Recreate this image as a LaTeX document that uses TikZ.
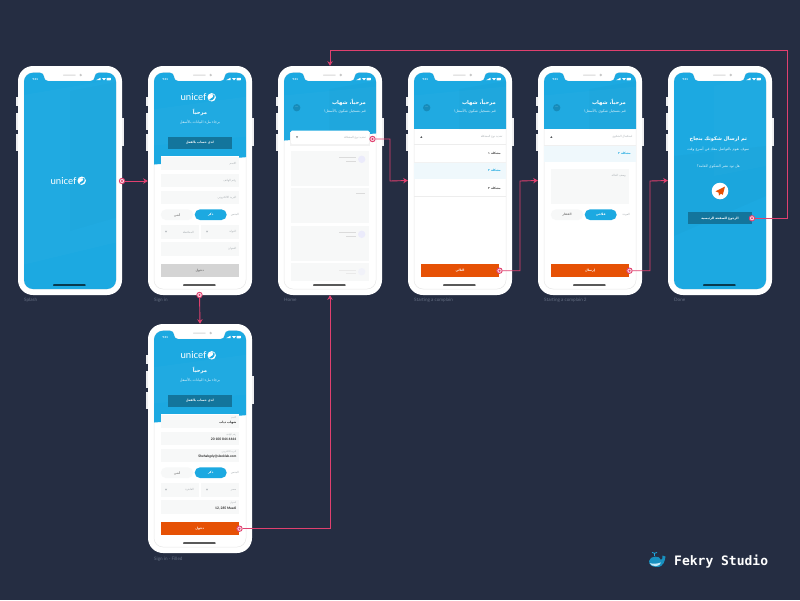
\documentclass[tikz,border=0pt]{standalone}
\usepackage{fontspec}
\setmainfont{Lato}
\newfontfamily\arabicfont[Script=Arabic]{DejaVu Sans}
\newfontfamily\studiofont{DejaVu Sans Mono}
\TeXXeTstate=1
\usetikzlibrary{arrows.meta}
\definecolor{boardbg}{HTML}{252D42}
\definecolor{screenblue}{HTML}{1CA9E1}
\definecolor{darkbtn}{HTML}{13759C}
\definecolor{orangebtn}{HTML}{E65105}
\definecolor{linkpink}{HTML}{E0406F}
\definecolor{fieldgray}{HTML}{F7F8F8}
\definecolor{palerow}{HTML}{EFF8FC}
\definecolor{captiongray}{HTML}{646D81}
\definecolor{hintgray}{HTML}{A9AFB3}
\newcommand{\ar}[1]{\beginR #1\endR}
\tikzset{
 screenshape/.style={insert path={(6,110) [rounded corners=9pt] -- (6,6.7) [rounded corners=4pt] -- (26,6.7) -- (26,15) -- (76.7,15) -- (76.7,6.7) [rounded corners=9pt] -- (98,6.7) -- (98,223) -- (6,223) -- cycle}},
 caption/.style={anchor=west, inner sep=0, text=captiongray, font=\fontsize{4.6}{5}\selectfont},
 arbig/.style={inner sep=0, text=white, font=\arabicfont\bfseries\fontsize{5.2}{6}\selectfont},
 arsub/.style={inner sep=0, text=white!85!screenblue, font=\arabicfont\fontsize{3.6}{4}\selectfont},
 arbtn/.style={inner sep=0, text=white, font=\arabicfont\bfseries\fontsize{3.1}{4}\selectfont},
 arhint/.style={inner sep=0, text=hintgray, font=\arabicfont\fontsize{2.8}{3}\selectfont},
 ardark/.style={inner sep=0, text=black!70, font=\arabicfont\bfseries\fontsize{3}{4}\selectfont},
 valtext/.style={inner sep=0, anchor=east, text=black!85, font=\bfseries\fontsize{3.3}{4}\selectfont},
 flatbtn/.style={fill=#1, rectangle, inner sep=0},
 linkdot/.style={circle, inner sep=0, minimum size=5.4pt, fill=white!80!linkpink, draw=linkpink, line width=.9pt, path picture={\fill[linkpink] (path picture bounding box.center) circle (1.1pt);}},
 link/.style={draw=linkpink, line width=.9pt, -{Stealth[length=4.6pt, width=5.4pt]}},
 pics/phone/.style={code={
  \foreach \y/\h in {30.7/9.3,46.7/17.3,68/17} {\fill[white!92!boardbg] (-1.6,\y) rectangle ++(2.5,\h);}
  \fill[white!92!boardbg] (103,52) rectangle ++(2.6,28);
  \node[fill=white, rounded corners=15pt, minimum width=104pt, minimum height=229pt, inner sep=0] (frame) at (52,114.5) {};
  \filldraw[fill=white, draw=black!9, line width=.5pt, screenshape];
  \fill[black!16, rounded corners=.6pt] (45,8.5) rectangle (57.7,9.7);
  \fill[black!22] (62.7,9) circle (1.3);
 }},
 pics/phonebar/.style={code={
  \node[inner sep=0, text=#1, font=\bfseries\fontsize{2.8}{3}\selectfont] (clock) at (17.3,13.3) {9:41};
  \fill[#1] (78,14.2) -- (82.5,14.2) -- (82.5,11.8) -- cycle;
  \fill[#1] (84,12) -- (88,12) -- (86,14.4) -- cycle;
  \fill[#1, rounded corners=.4pt] (88.6,11.8) rectangle (92.8,14.3);
  \fill[black, rounded corners=.6pt] (35,218.4) rectangle (67.7,219.7);
 }},
 pics/logo/.style={code={
  \node[inner sep=0, anchor=east, text=white, font=\fontsize{9.6}{11}\selectfont] (word) at (58.7,0) {unicef};
  \fill[white] (63.7,0) circle (4.2);
  \fill[screenblue] (61.7,-2.2) .. controls (65.7,-3.5) and (66.7,-1) .. (64.7,0) .. controls (63.7,1.5) and (61.7,1) .. (61.2,2.5) -- (62.7,3.2) .. controls (65.7,2.5) and (67.7,0) .. (66.2,-2.8) -- cycle;
 }},
 pics/hello/.style={code={
  \fill[white, opacity=.02] (0,30) -- (104,20) -- (104,110) -- (0,110) -- cycle;
  \fill[black, opacity=.015] (51.3,23) -- (104,14) -- (104,90) -- (51.3,90) -- cycle;
  \node[arbig, anchor=east] (hi) at (88,36.3) {\ar{مرحباً، شهاب}};
  \node[arsub, anchor=east] (ask) at (88,45.7) {\ar{قم بتسجيل شكوى بالأسفل!}};
  \node[circle, fill=darkbtn!55!screenblue, minimum size=7.4pt, inner sep=0, text=white, font=\fontsize{3}{3}\selectfont] (menu) at (18.7,41.7) {...};
 }},
 pics/gender/.style n args={2}{code={
  \node[flatbtn=screenblue, rounded corners=5.3pt, minimum width=32pt, minimum height=10.7pt, arbtn] (pilla) at (62.7,148.7) {\ar{#1}};
  \node[flatbtn=fieldgray, rounded corners=5.3pt, minimum width=32.5pt, minimum height=10.7pt, ardark, text=black!50] (pillb) at (29,148.7) {\ar{#2}};
 }}
}
\begin{document}
\begin{tikzpicture}[x=1pt, y=-1pt]
\useasboundingbox (0,0) rectangle (800,600);
\fill[boardbg] (0,0) rectangle (800,600);

% splash
\begin{scope}[shift={(18,66)}]
\pic (splash) at (0,0) {phone};
\begin{scope}
\clip[screenshape];
\fill[screenblue] (0,0) rectangle (104,229);
\fill[white, opacity=.02] (0,30) -- (104,12) -- (104,175) -- (0,200) -- cycle;
\fill[black, opacity=.012] (52,25) -- (104,15) -- (104,150) -- (52,165) -- cycle;
\end{scope}
\pic (splashlogo) at (0,114.7) {logo};
\pic (splashbar) at (0,0) {phonebar=white};
\node[caption] (splashcap) at (6,234) {Splash};
\node[linkdot] (splashdot) at (104,115) {};
\end{scope}

% sign in, empty form
\begin{scope}[shift={(148,66)}]
\pic (signin) at (0,0) {phone};
\begin{scope}
\clip[screenshape];
\fill[screenblue] (0,0) -- (104,0) -- (104,90.7) -- (0,99) -- cycle;
\fill[white, opacity=.02] (0,44) -- (104,30) -- (104,70) -- (0,80) -- cycle;
\end{scope}
\fill[white] (12.7,90) rectangle (90.7,215);
\foreach \y in {90.7,107.7,124.7,176.3} {\fill[fieldgray] (12.7,\y) rectangle ++(78,13.4);}
\fill[fieldgray] (12.7,159.3) rectangle ++(38,13.4);
\fill[fieldgray] (52.7,159.3) rectangle ++(38,13.4);
\pic (signinlogo) at (0,31.3) {logo};
\pic (signinbar) at (0,0) {phonebar=white};
\node[arbig] (signinhi) at (52,46.7) {\ar{مرحباً}};
\node[arsub] (signinask) at (52,56.3) {\ar{برجاء ملء البيانات بالأسفل}};
\node[flatbtn=darkbtn, minimum width=63.7pt, minimum height=12pt, arbtn] (signinhave) at (51.8,77) {\ar{لدي حساب بالفعل}};
\node[arhint, anchor=east] (signinname) at (88.5,97.4) {\ar{الاسم}};
\node[arhint, anchor=east] (signinphone) at (88.5,114.4) {\ar{رقم الهاتف}};
\node[arhint, anchor=east] (signinmail) at (88.5,131.4) {\ar{البريد الالكتروني}};
\node[arhint, anchor=east] (signinsex) at (91,148.7) {\ar{الجنس}};
\pic (signingender) at (0,0) {gender={ذكر}{أنثى}};
\node[arhint, anchor=east] (signincountry) at (88.5,166) {\ar{الدولة}};
\node[arhint, anchor=east] (signincity) at (46,166) {\ar{المحافظة}};
\node[arhint, anchor=east] (signinaddr) at (88.5,183) {\ar{العنوان}};
\fill[hintgray] (17,164.8) -- (19,164.8) -- (18,166.6) -- cycle;
\fill[hintgray] (58,164.8) -- (60,164.8) -- (59,166.6) -- cycle;
\node[flatbtn=black!17, minimum width=78pt, minimum height=13.3pt, ardark, text=black!55] (signinbtn) at (51.7,204.3) {\ar{دخول}};
\node[caption] (signincap) at (6,234) {Sign in};
\node[linkdot] (signindot) at (51.5,229) {};
\end{scope}

% sign in, filled form
\begin{scope}[shift={(148,324)}]
\pic (filled) at (0,0) {phone};
\begin{scope}
\clip[screenshape];
\fill[screenblue] (0,0) -- (104,0) -- (104,90.7) -- (0,99) -- cycle;
\fill[white, opacity=.02] (0,44) -- (104,30) -- (104,70) -- (0,80) -- cycle;
\end{scope}
\fill[white] (12.7,90) rectangle (90.7,215);
\foreach \y in {90.7,107.7,124.7,176.3} {\fill[fieldgray] (12.7,\y) rectangle ++(78,13.4);}
\fill[fieldgray] (12.7,159.3) rectangle ++(38,13.4);
\fill[fieldgray] (52.7,159.3) rectangle ++(38,13.4);
\pic (filledlogo) at (0,31.3) {logo};
\pic (filledbar) at (0,0) {phonebar=white};
\node[arbig] (filledhi) at (52,46.7) {\ar{مرحباً}};
\node[arsub] (filledask) at (52,56.3) {\ar{برجاء ملء البيانات بالأسفل}};
\node[flatbtn=darkbtn, minimum width=63.7pt, minimum height=12pt, arbtn] (filledhave) at (51.8,77) {\ar{لدي حساب بالفعل}};
\node[arhint, anchor=east, font=\arabicfont\fontsize{2.2}{3}\selectfont] (filledname) at (88.5,93.5) {\ar{الاسم}};
\node[ardark, anchor=east, text=black!85] (filledshehab) at (88.5,98.5) {\ar{شهاب دياب}};
\node[arhint, anchor=east, font=\arabicfont\fontsize{2.2}{3}\selectfont] (filledphone) at (88.5,110.5) {\ar{رقم الهاتف}};
\node[valtext] (filledphoneval) at (88.5,115.6) {20 100 844 4444};
\node[arhint, anchor=east, font=\arabicfont\fontsize{2.2}{3}\selectfont] (filledmail) at (88.5,127.5) {\ar{البريد الالكتروني}};
\node[valtext] (filledmailval) at (88.5,132.6) {Shehabgdy@sleeklab.com};
\node[arhint, anchor=east] (filledsex) at (91,148.7) {\ar{الجنس}};
\pic (filledgender) at (0,0) {gender={ذكر}{أنثى}};
\node[arhint, anchor=east] (filledcountry) at (88.5,166) {\ar{مصر}};
\node[arhint, anchor=east] (filledcity) at (46,166) {\ar{القاهرة}};
\node[arhint, anchor=east, font=\arabicfont\fontsize{2.2}{3}\selectfont] (filledaddr) at (88.5,179) {\ar{العنوان}};
\node[valtext] (filledaddrval) at (88.5,184.3) {12, 285 Maadi};
\fill[hintgray] (17,164.8) -- (19,164.8) -- (18,166.6) -- cycle;
\fill[hintgray] (58,164.8) -- (60,164.8) -- (59,166.6) -- cycle;
\node[flatbtn=orangebtn, minimum width=78pt, minimum height=13.6pt, arbtn] (filledbtn) at (51.7,204.5) {\ar{دخول}};
\node[caption] (filledcap) at (6,235) {Sign in - Filled};
\node[linkdot] (filleddot) at (91.5,204.7) {};
\end{scope}

% home
\begin{scope}[shift={(278,66)}]
\pic (home) at (0,0) {phone};
\begin{scope}
\clip[screenshape];
\fill[screenblue] (0,0) -- (104,0) -- (104,67) -- (0,75) -- cycle;
\clip (0,0) -- (104,0) -- (104,67) -- (0,75) -- cycle;
\pic (homehello) at (0,0) {hello};
\end{scope}
\fill[black!5] (12,65.5) rectangle (92,79.5);
\fill[white, rounded corners=1pt] (13,64.7) rectangle (91,78);
\node[arhint, anchor=east] (homepick) at (88,71.4) {\ar{تحديد نوع المشكلة}};
\fill[hintgray!70!black] (18,70.4) -- (20,70.4) -- (19,72.2) -- cycle;
\foreach \y in {84.7,122,159.7} {\fill[fieldgray] (13,\y) rectangle ++(78,35);}
\fill[fieldgray] (13,197.3) rectangle (91,214.7);
\foreach \y/\o in {93.3/100,168.3/100,205.7/45} {
 \fill[black!20!blue!8!white, opacity=\o/100] (83.7,\y) circle (3.7);
 \fill[black!14, opacity=\o/100] (61,\y-2) rectangle ++(16.7,1);
 \fill[black!14, opacity=\o/100] (68,\y+1.6) rectangle ++(9.7,1);
}
\fill[black!14] (77.7,127.3) rectangle ++(9.3,1);
\pic (homebar) at (0,0) {phonebar=white};
\node[caption] (homecap) at (6,234) {Home};
\node[linkdot] (homedot) at (94.5,73) {};
\end{scope}

% pick the problem
\begin{scope}[shift={(408,66)}]
\pic (pick) at (0,0) {phone};
\begin{scope}
\clip[screenshape];
\fill[screenblue] (0,0) rectangle (104,63);
\clip (0,0) rectangle (104,63);
\pic (pickhello) at (0,0) {hello};
\end{scope}
\fill[black!7] (6,78.4) rectangle (98,79.4);
\node[arhint, anchor=east] (pickhead) at (94.7,70.8) {\ar{تحديد نوع المشكلة}};
\fill[hintgray!50!black] (12.3,71.8) -- (14.3,71.8) -- (13.3,70) -- cycle;
\fill[palerow] (6,96) rectangle (98,113.3);
\draw[black!7, line width=.4pt] (6,130.3) -- (98,130.3);
\draw[black!5, line width=.4pt] (6,96) -- (98,96);
\node[ardark, anchor=east] (pickone) at (93,87.7) {\ar{مشكلة ١}};
\node[ardark, anchor=east, text=screenblue] (picktwo) at (93,104.7) {\ar{مشكلة ٢}};
\node[ardark, anchor=east] (pickthree) at (93,122) {\ar{مشكلة ٣}};
\node[flatbtn=orangebtn, minimum width=78pt, minimum height=13.6pt, arbtn] (pickbtn) at (52,204.5) {\ar{التالي}};
\pic (pickbar) at (0,0) {phonebar=white};
\node[caption] (pickcap) at (6,234) {Starting a complain};
\node[linkdot] (pickdot) at (91.5,204.7) {};
\end{scope}

% describe the problem
\begin{scope}[shift={(538,66)}]
\pic (desc) at (0,0) {phone};
\begin{scope}
\clip[screenshape];
\fill[screenblue] (0,0) rectangle (104,63);
\clip (0,0) rectangle (104,63);
\pic (deschello) at (0,0) {hello};
\end{scope}
\node[arhint, anchor=east] (deschead) at (94.7,70.8) {\ar{استكمال الشكوى}};
\fill[hintgray!50!black] (12.3,71.8) -- (14.3,71.8) -- (13.3,70) -- cycle;
\fill[palerow] (6,79) rectangle (98,96);
\draw[black!6, line width=.4pt] (6,79) -- (98,79);
\node[ardark, anchor=east, text=screenblue] (descrow) at (93,87.7) {\ar{مشكلة ٢}};
\fill[fieldgray] (13,103.3) rectangle (91,138.3);
\node[arhint, anchor=east] (descarea) at (88,110) {\ar{وصف الحالة}};
\node[arhint, anchor=east] (desclabel) at (92,148.7) {\ar{العودة}};
\pic (descpills) at (0,0) {gender={فلاحي}{الفقار}};
\node[flatbtn=orangebtn, minimum width=78pt, minimum height=13.6pt, arbtn] (descbtn) at (52,204.5) {\ar{إرسال}};
\pic (descbar) at (0,0) {phonebar=white};
\node[caption] (desccap) at (6,234) {Starting a complain 2};
\node[linkdot] (descdot) at (91.5,204.7) {};
\end{scope}

% done
\begin{scope}[shift={(668,66)}]
\pic (done) at (0,0) {phone};
\begin{scope}
\clip[screenshape];
\fill[screenblue] (0,0) rectangle (104,229);
\fill[black, opacity=.015] (6,170) -- (6,90) -- (98,80) -- (98,130) -- cycle;
\fill[white, opacity=.015] (46,20) -- (98,8) -- (98,100) -- (46,110) -- cycle;
\end{scope}
\node[arbig, font=\arabicfont\bfseries\fontsize{5}{6}\selectfont] (donetitle) at (50.3,73.3) {\ar{تم ارسال شكوتك بنجاح}};
\node[arsub] (donesub) at (50.3,82.7) {\ar{سوف نقوم بالتواصل معك في أسرع وقت}};
\node[arsub] (doneask) at (50.3,100.7) {\ar{هل تود نشر الشكوى للعامة؟}};
\node[circle, fill=white, minimum size=16.6pt, inner sep=0] (doneicon) at (52,125) {};
\fill[orangebtn] (57,120.5) -- (47.5,125.3) -- (50.6,126.6) -- (51,129.6) -- (53,127.6) -- (54.8,128.8) -- cycle;
\node[flatbtn=darkbtn, minimum width=64pt, minimum height=12pt, arbtn] (donebtn) at (52,152.3) {\ar{الرجوع للصفحة الرئيسية}};
\pic (donebar) at (0,0) {phonebar=white};
\node[caption] (donecap) at (6,234) {Done};
\node[linkdot] (donedot) at (84,152.3) {};
\end{scope}

% connectors
\coordinate (homebend) at (390,181);
\coordinate (pickbend) at (520,181);
\coordinate (descbend) at (650,181);
\coordinate (donebend) at (787.3,50);
\draw[link] (splashdot) -- (signinframe.west |- splashdot);
\draw[link] (signindot) -- (filledframe.north);
\draw[link] (filleddot) -| (homeframe.south);
\draw[link] (homedot) -| (homebend) -- (pickframe.west);
\draw[link] (pickdot) -| (pickbend) -- (descframe.west);
\draw[link] (descdot) -| (descbend) -- (doneframe.west);
\draw[link] (donedot) -| (donebend) -| (homeframe.north);

% studio mark
\fill[screenblue!85!black] (649,561) .. controls (650,555.5) and (660,555) .. (661,560) .. controls (662,559.5) and (663,558) .. (662.5,555.5) -- (665.5,556.5) .. controls (665,560) and (664,567) .. (657,567) .. controls (652,567) and (649,565) .. (649,561) -- cycle;
\fill[white!75!screenblue] (649.5,563) .. controls (652,564) and (657,564) .. (661,562.5) .. controls (660,567) and (652,567.5) .. (649.5,563) -- cycle;
\draw[screenblue, line width=.9pt] (654.5,556) -- (654.5,553.3);
\draw[screenblue, line width=.8pt] (652,552.5) .. controls (653,553.5) and (656,553.5) .. (657,552.5);
\node[anchor=west, inner sep=0, text=white, font=\studiofont\bfseries\fontsize{13}{14}\selectfont] (studio) at (674,561.4) {Fekry Studio};
\end{tikzpicture}
\end{document}
